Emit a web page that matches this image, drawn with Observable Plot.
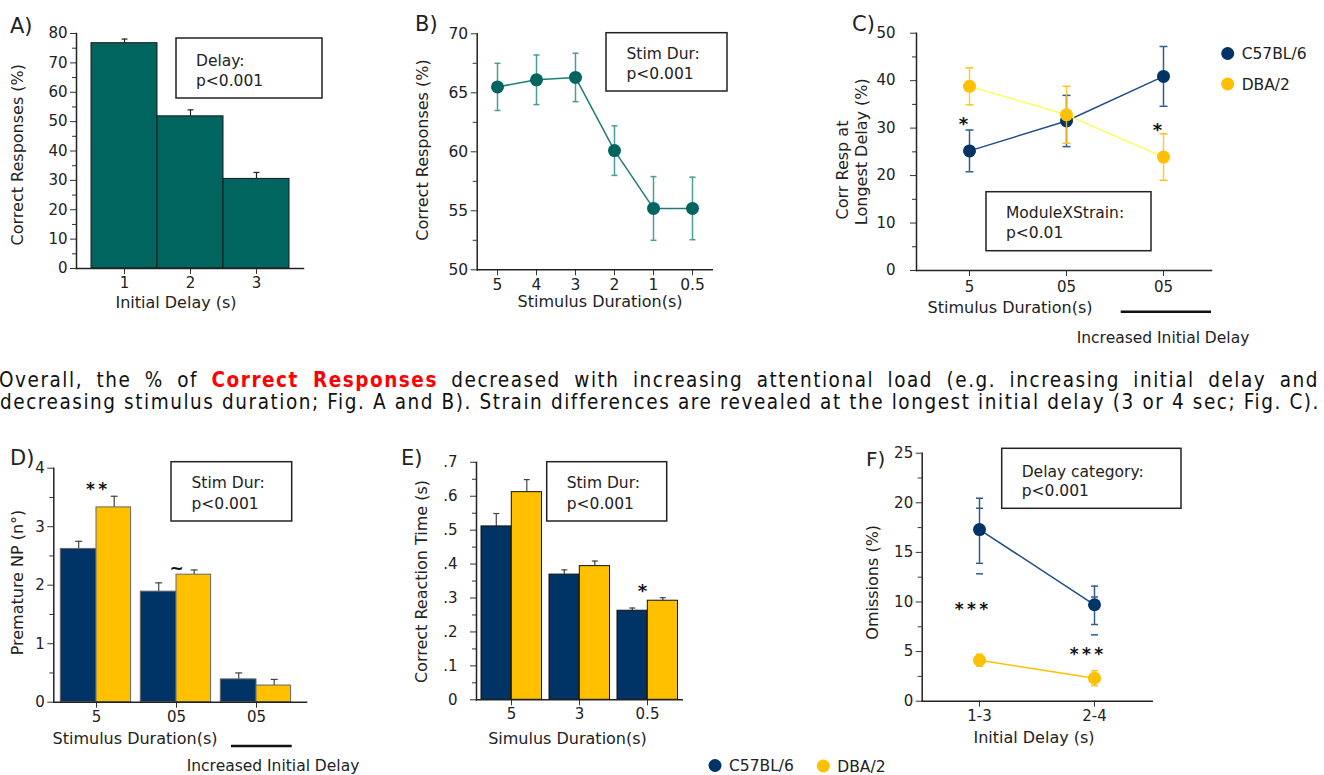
<!DOCTYPE html>
<html><head><meta charset="utf-8">
<script src="https://cdn.jsdelivr.net/npm/d3@7"></script>
<script src="https://cdn.jsdelivr.net/npm/@observablehq/plot@0.6"></script>
<style>
html,body{margin:0;padding:0;background:#fff;}
#root{position:relative;width:1324px;height:775px;overflow:hidden;font-family:"DejaVu Sans",Verdana,sans-serif;color:#222;background:#fff;}
</style></head><body><div id="root"></div>
<script>
// ---------- DATA ----------
const aDelays = ["1", "2", "3"];
const aMeans = [76.7, 51.8, 30.5];
const aSem = [1.4, 2.2, 2.2];

const bDurations = ["5", "4", "3", "2", "1", "0.5"];
const bMeans = [65.5, 66.1, 66.3, 60.1, 55.2, 55.2];
const bSem = [2.0, 2.1, 2.05, 2.1, 2.7, 2.65];

const cConditions = ["5", "0.5a", "0.5b"];
const cTickLabels = ["5", "05", "05"];
const cC57Means = [25.2, 31.5, 40.9];
const cC57Sem = [4.4, 5.4, 6.3];
const cDbaMeans = [38.8, 32.8, 23.9];
const cDbaSem = [3.9, 6.0, 4.9];

const dConditions = ["5", "0.5a", "0.5b"];
const dTickLabels = ["5", "05", "05"];
const dC57Means = [2.62, 1.89, 0.39];
const dC57Sem = [0.13, 0.15, 0.11];
const dDbaMeans = [3.33, 2.18, 0.285];
const dDbaSem = [0.19, 0.08, 0.105];

const eDurations = ["5", "3", "0.5"];
const eC57Means = [0.511, 0.369, 0.2625];
const eC57Sem = [0.038, 0.014, 0.008];
const eDbaMeans = [0.612, 0.394, 0.292];
const eDbaSem = [0.037, 0.015, 0.009];

const fDelays = ["1-3", "2-4"];
const fC57Means = [17.3, 9.72];
const fC57Low = [13.9, 7.73];
const fC57High = [20.46, 11.6];
const fC57Low2 = [12.84, 6.69];
const fC57High2 = [19.45, 10.5];
const fDbaMeans = [4.13, 2.32];
const fDbaSem = [0.6, 0.75];

// significance marks (category, level in data units, label)
const cStars = [{x: "5", y: 31.6, t: "*"}, {x: "0.5b", y: 30.5, t: "*"}];
const dMarks = [{x: "5", y: 3.70, t: "*\u2009*"}, {x: "0.5a", y: 2.36, t: "~"}];
const eStars = [{x: "0.5", y: 0.332, t: "*"}];
const fStars = [{x: "1-3", y: 9.65, t: "*\u2009*\u2009*"}, {x: "2-4", y: 5.11, t: "*\u2009*\u2009*"}];

// ---------- STYLE ----------
const FONT = '"DejaVu Sans", Verdana, sans-serif';
const NAVY = "#003366", GOLD = "#FFC000", TEAL = "#00655f";
const root = document.getElementById("root");
const cap = {draw(ctx, size) { const r = Math.sqrt(size / Math.PI); ctx.moveTo(-r, 0); ctx.lineTo(r, 0); }};
const baseStyle = {fontFamily: FONT, fontSize: "15px", color: "#222", background: "transparent", overflow: "visible"};

function yAxes(major, minor, fmt, pad = 3) {
  return [
    Plot.axisY({ticks: minor, tickSize: 4, tickFormat: () => "", label: null, stroke: "#333"}),
    Plot.axisY({ticks: major, tickSize: 6, tickPadding: pad, tickFormat: fmt, label: null, stroke: "#333"}),
    Plot.frame({anchor: "left", stroke: "#222", strokeWidth: 1.5})
  ];
}
function xAxis(fmt, pad = 3) {
  return [
    Plot.axisX({tickSize: 6, tickPadding: pad, label: null, stroke: "#333", tickFormat: fmt}),
    Plot.frame({anchor: "bottom", stroke: "#222", strokeWidth: 1.5})
  ];
}
function place(el, left, top) {
  el.style.position = "absolute"; el.style.left = left + "px"; el.style.top = top + "px";
  root.appendChild(el);
}

// ---------- PANEL A ----------
const aData = aDelays.map((d, i) => ({delay: d, mean: aMeans[i], hi: aMeans[i] + aSem[i]}));
place(Plot.plot({
  width: 330, height: 320, marginLeft: 76, marginRight: 27, marginTop: 33, marginBottom: 52,
  style: baseStyle,
  x: {domain: aDelays, padding: 0, insetLeft: 14, insetRight: 14, label: null},
  y: {domain: [0, 80], label: null},
  marks: [
    Plot.ruleX(aData, {x: "delay", y1: "mean", y2: "hi", stroke: "#222", strokeWidth: 1.2}),
    Plot.dot(aData, {x: "delay", y: "hi", symbol: cap, r: 3, stroke: "#222", fill: "none", strokeWidth: 1.2}),
    Plot.barY(aData, {x: "delay", y: "mean", fill: TEAL, stroke: "#1a1a1a", strokeWidth: 1}),
    ...yAxes(d3.range(0, 81, 10), d3.range(5, 80, 10)),
    ...xAxis()
  ]
}), 0, 0);

// ---------- PANEL B ----------
const bData = bDurations.map((d, i) => ({dur: d, mean: bMeans[i], lo: bMeans[i] - bSem[i], hi: bMeans[i] + bSem[i]}));
place(Plot.plot({
  width: 330, height: 320, marginLeft: 76.7, marginRight: 18.3, marginTop: 33.3, marginBottom: 50.7,
  style: {...baseStyle, fontSize: "15.5px"},
  x: {type: "point", domain: bDurations, padding: 0.5, label: null},
  y: {domain: [50, 70], label: null},
  marks: [
    Plot.ruleX(bData, {x: "dur", y1: "lo", y2: "hi", stroke: "#4a9c98", strokeWidth: 1.5}),
    Plot.dot(bData, {x: "dur", y: "lo", symbol: cap, r: 3, stroke: "#4a9c98", fill: "none", strokeWidth: 1.5}),
    Plot.dot(bData, {x: "dur", y: "hi", symbol: cap, r: 3, stroke: "#4a9c98", fill: "none", strokeWidth: 1.5}),
    Plot.line(bData, {x: "dur", y: "mean", stroke: "#1f7c77", strokeWidth: 1.5}),
    Plot.dot(bData, {x: "dur", y: "mean", r: 6.5, fill: TEAL}),
    ...yAxes(d3.range(50, 71, 5), [52.5, 57.5, 62.5, 67.5]),
    ...xAxis()
  ]
}), 400, 0);

// ---------- PANEL C ----------
const cC57 = cConditions.map((c, i) => ({c, m: cC57Means[i], lo: cC57Means[i] - cC57Sem[i], hi: cC57Means[i] + cC57Sem[i]}));
const cDba = cConditions.map((c, i) => ({c, m: cDbaMeans[i], lo: cDbaMeans[i] - cDbaSem[i], hi: cDbaMeans[i] + cDbaSem[i]}));
const cFmt = d => cTickLabels[cConditions.indexOf(d)];
place(Plot.plot({
  width: 400, height: 320, marginLeft: 86, marginRight: 19, marginTop: 32.7, marginBottom: 50,
  style: baseStyle,
  x: {type: "point", domain: cConditions, padding: 0.52, align: 0.52, label: null},
  y: {domain: [0, 50], label: null},
  marks: [
    Plot.ruleX(cC57, {x: "c", y1: "lo", y2: "hi", stroke: "#2f5f92", strokeWidth: 1.5}),
    Plot.dot(cC57, {x: "c", y: "lo", symbol: cap, r: 4, stroke: "#2f5f92", fill: "none", strokeWidth: 1.5}),
    Plot.dot(cC57, {x: "c", y: "hi", symbol: cap, r: 4, stroke: "#2f5f92", fill: "none", strokeWidth: 1.5}),
    Plot.line(cC57, {x: "c", y: "m", stroke: "#1f4f8a", strokeWidth: 1.5}),
    Plot.dot(cC57, {x: "c", y: "m", r: 6.5, fill: NAVY}),
    Plot.ruleX(cDba, {x: "c", y1: "lo", y2: "hi", stroke: "#ffc21a", strokeWidth: 1.5, strokeOpacity: 0.85}),
    Plot.dot(cDba, {x: "c", y: "lo", symbol: cap, r: 4, stroke: "#ffc21a", fill: "none", strokeWidth: 1.5}),
    Plot.dot(cDba, {x: "c", y: "hi", symbol: cap, r: 4, stroke: "#ffc21a", fill: "none", strokeWidth: 1.5}),
    Plot.line(cDba, {x: "c", y: "m", stroke: "#ffff55", strokeWidth: 1.5}),
    Plot.dot(cDba, {x: "c", y: "m", r: 6.5, fill: GOLD}),
    Plot.text(cStars, {x: "x", y: "y", text: "t", dx: -6, dy: 4, fontSize: 18, fontWeight: "bold", fill: "#111"}),
    ...yAxes(d3.range(0, 51, 10), d3.range(5, 50, 10), undefined, 15),
    ...xAxis(cFmt, 5)
  ]
}), 830, 0);

// ---------- PANEL D ----------
const dData = dConditions.map((c, i) => ({c, c57: dC57Means[i], c57hi: dC57Means[i] + dC57Sem[i], dba: dDbaMeans[i], dbahi: dDbaMeans[i] + dDbaSem[i]}));
const dFmt = d => dTickLabels[dConditions.indexOf(d)];
place(Plot.plot({
  width: 330, height: 300, marginLeft: 53.3, marginRight: 24, marginTop: 27.7, marginBottom: 38.3,
  style: baseStyle,
  x: {domain: dConditions, padding: 0, insetLeft: 2.4, insetRight: 10.3, label: null},
  y: {domain: [0, 4], label: null},
  marks: [
    Plot.ruleX(dData, {x: "c", y1: "c57", y2: "c57hi", dx: -17.8, stroke: "#444", strokeWidth: 1.2}),
    Plot.dot(dData, {x: "c", y: "c57hi", dx: -17.8, symbol: cap, r: 3.5, stroke: "#444", fill: "none", strokeWidth: 1.2}),
    Plot.ruleX(dData, {x: "c", y1: "dba", y2: "dbahi", dx: 17.7, stroke: "#444", strokeWidth: 1.2}),
    Plot.dot(dData, {x: "c", y: "dbahi", dx: 17.7, symbol: cap, r: 3.5, stroke: "#444", fill: "none", strokeWidth: 1.2}),
    Plot.barY(dData, {x: "c", y: "c57", fill: NAVY, stroke: "#666", strokeWidth: 1, insetLeft: 4.3, insetRight: 40}),
    Plot.barY(dData, {x: "c", y: "dba", fill: GOLD, stroke: "#666", strokeWidth: 1, insetLeft: 40, insetRight: 5.4}),
    Plot.text(dMarks, {x: "x", y: "y", text: "t", dy: 4, fontSize: 17, fontWeight: "bold", fill: "#111"}),
    ...yAxes([0, 1, 2, 3, 4], [0.5, 1.5, 2.5, 3.5], d3.format("d")),
    ...xAxis(dFmt)
  ]
}), 0, 440);

// ---------- PANEL E ----------
const eData = eDurations.map((c, i) => ({c, c57: eC57Means[i], c57hi: eC57Means[i] + eC57Sem[i], dba: eDbaMeans[i], dbahi: eDbaMeans[i] + eDbaSem[i]}));
place(Plot.plot({
  width: 300, height: 300, marginLeft: 76, marginRight: 18.3, marginTop: 21.8, marginBottom: 40.7,
  style: baseStyle,
  x: {domain: eDurations, padding: 0, label: null},
  y: {domain: [0, 0.7], label: null},
  marks: [
    Plot.ruleX(eData, {x: "c", y1: "c57", y2: "c57hi", dx: -15.2, stroke: "#444", strokeWidth: 1.2}),
    Plot.dot(eData, {x: "c", y: "c57hi", dx: -15.2, symbol: cap, r: 3, stroke: "#444", fill: "none", strokeWidth: 1.2}),
    Plot.ruleX(eData, {x: "c", y1: "dba", y2: "dbahi", dx: 15.3, stroke: "#444", strokeWidth: 1.2}),
    Plot.dot(eData, {x: "c", y: "dbahi", dx: 15.3, symbol: cap, r: 3, stroke: "#444", fill: "none", strokeWidth: 1.2}),
    Plot.barY(eData, {x: "c", y: "c57", fill: NAVY, stroke: "#111", strokeWidth: 1, insetLeft: 4, insetRight: 34.3}),
    Plot.barY(eData, {x: "c", y: "dba", fill: GOLD, stroke: "#111", strokeWidth: 1, insetLeft: 34.3, insetRight: 3.5}),
    Plot.text(eStars, {x: "x", y: "y", text: "t", dx: -5, dy: 4, fontSize: 18, fontWeight: "bold", fill: "#111"}),
    ...yAxes(d3.range(0, 0.71, 0.1), d3.range(0.05, 0.7, 0.1), d => d < 0.001 ? "0" : "." + Math.round(d * 10), 13),
    ...xAxis()
  ]
}), 400, 440);

// ---------- PANEL F ----------
const fC57 = fDelays.map((c, i) => ({c, m: fC57Means[i], lo: fC57Low[i], hi: fC57High[i], lo2: fC57Low2[i], hi2: fC57High2[i]}));
const fDba = fDelays.map((c, i) => ({c, m: fDbaMeans[i], lo: fDbaMeans[i] - fDbaSem[i], hi: fDbaMeans[i] + fDbaSem[i]}));
place(Plot.plot({
  width: 330, height: 300, marginLeft: 71.7, marginRight: 28.3, marginTop: 12.7, marginBottom: 39.3,
  style: baseStyle,
  x: {type: "point", domain: fDelays, padding: 0.5, label: null},
  y: {domain: [0, 25], label: null},
  marks: [
    Plot.ruleX(fC57, {x: "c", y1: "lo", y2: "hi", stroke: "#2f5f92", strokeWidth: 1.5}),
    Plot.dot(fC57, {x: "c", y: "lo", symbol: cap, r: 3.5, stroke: "#2f5f92", fill: "none", strokeWidth: 1.5}),
    Plot.dot(fC57, {x: "c", y: "hi", symbol: cap, r: 3.5, stroke: "#2f5f92", fill: "none", strokeWidth: 1.5}),
    Plot.dot(fC57, {x: "c", y: "lo2", symbol: cap, r: 3.5, stroke: "#2f5f92", fill: "none", strokeWidth: 1.5}),
    Plot.dot(fC57, {x: "c", y: "hi2", symbol: cap, r: 3.5, stroke: "#2f5f92", fill: "none", strokeWidth: 1.5}),
    Plot.line(fC57, {x: "c", y: "m", stroke: "#1f4f8a", strokeWidth: 1.5}),
    Plot.dot(fC57, {x: "c", y: "m", r: 6.5, fill: NAVY}),
    Plot.ruleX(fDba, {x: "c", y1: "lo", y2: "hi", stroke: "#ffc21a", strokeWidth: 1.5}),
    Plot.dot(fDba, {x: "c", y: "lo", symbol: cap, r: 3.5, stroke: "#ffc21a", fill: "none", strokeWidth: 1.5}),
    Plot.dot(fDba, {x: "c", y: "hi", symbol: cap, r: 3.5, stroke: "#ffc21a", fill: "none", strokeWidth: 1.5}),
    Plot.line(fDba, {x: "c", y: "m", stroke: "#ffc000", strokeWidth: 1.5}),
    Plot.dot(fDba, {x: "c", y: "m", r: 6.5, fill: GOLD}),
    Plot.text(fStars, {x: "x", y: "y", text: "t", dx: -8, dy: 4, fontSize: 17, fontWeight: "bold", fill: "#111"}),
    ...yAxes(d3.range(0, 26, 5), [2.5, 7.5, 12.5, 17.5, 22.5]),
    ...xAxis()
  ]
}), 850, 440);

// ---------- OVERLAY TEXT ----------
const ov = d3.select(root).append("svg")
  .attr("width", 1324).attr("height", 775)
  .style("position", "absolute").style("left", "0px").style("top", "0px")
  .style("font-family", FONT).style("fill", "#222");

function txt(x, y, s, size = 16, anchor = "start", extra = {}) {
  const t = ov.append("text").attr("x", x).attr("y", y).attr("font-size", size).attr("text-anchor", anchor).text(s);
  for (const k in extra) t.attr(k, extra[k]);
  return t;
}
function ytitle(cx, cy, s, size = 16) {
  ov.append("text").attr("transform", `translate(${cx},${cy}) rotate(-90)`)
    .attr("text-anchor", "middle").attr("dy", "0.36em").attr("font-size", size).text(s);
}
function box(x1, y1, x2, y2, lines, tx, baselines) {
  ov.append("rect").attr("x", x1).attr("y", y1).attr("width", x2 - x1).attr("height", y2 - y1)
    .attr("fill", "#fff").attr("stroke", "#222").attr("stroke-width", 1.5);
  lines.forEach((l, i) => txt(tx, baselines[i], l, 15.5));
}
function hline(x1, x2, y) {
  ov.append("line").attr("x1", x1).attr("x2", x2).attr("y1", y).attr("y2", y).attr("stroke", "#111").attr("stroke-width", 2.5);
}

// panel letters
txt(10, 33, "A)", 21); txt(415, 31, "B)", 21); txt(852, 31, "C)", 21);
txt(10, 465, "D)", 21); txt(401, 465, "E)", 21); txt(866, 466, "F)", 20);

// statistic boxes
box(176, 38, 322, 98, ["Delay:", "p<0.001"], 196, [65.5, 85.5]);
box(606, 32.7, 727, 91, ["Stim Dur:", "p<0.001"], 626.5, [59.3, 79.3]);
box(986, 191.7, 1151, 250.7, ["ModuleXStrain:", "p<0.01"], 1006, [218.3, 238.3]);
box(171, 461.7, 291.7, 521, ["Stim Dur:", "p<0.001"], 191.5, [488.3, 509]);
box(546.7, 461.7, 666.7, 521, ["Stim Dur:", "p<0.001"], 566.7, [488.3, 508.5]);
box(1001.7, 448.3, 1181, 508.3, ["Delay category:", "p<0.001"], 1021.7, [476.7, 495.5]);

// axis titles
txt(176, 308.3, "Initial Delay (s)", 16, "middle");
txt(600, 307.3, "Stimulus Duration(s)", 16, "middle");
txt(1010, 313.3, "Stimulus Duration(s)", 16, "middle");
txt(135, 744, "Stimulus Duration(s)", 16, "middle");
txt(567.5, 744, "Simulus Duration(s)", 16, "middle");
txt(1034, 743.3, "Initial Delay (s)", 16, "middle");
ytitle(17.6, 154.7, "Correct Responses (%)");
ytitle(422, 150, "Correct Responses (%)");
ytitle(842.5, 170, "Corr Resp at");
ytitle(861.5, 151.7, "Longest Delay (%)");
ytitle(17.5, 582.5, "Premature NP (n°)");
ytitle(421, 581.5, "Correct Reaction Time (s)");
ytitle(872, 582.3, "Omissions (%)");

// increased initial delay markers
hline(1120.7, 1211, 311.7);
txt(1076.7, 343.3, "Increased Initial Delay", 15.5);
hline(231, 291.7, 746);
txt(186.7, 770.5, "Increased Initial Delay", 15.5);

// legends
function legendItem(cx, cy, color, label) {
  ov.append("circle").attr("cx", cx).attr("cy", cy).attr("r", 6.5).attr("fill", color);
  txt(cx + 14, cy + 5.8, label, 15.5);
}
legendItem(1227.7, 53.5, NAVY, "C57BL/6");
legendItem(1227.7, 84, GOLD, "DBA/2");
legendItem(715, 765.5, NAVY, "C57BL/6");
legendItem(823.3, 766, GOLD, "DBA/2");

// paragraph (justified lines)
const PFONT = '"DejaVu Sans Condensed", "DejaVu Sans", Verdana, sans-serif';
function paraLine(x, y, parts, size) {
  const t = ov.append("text").attr("x", x).attr("y", y).attr("font-size", size).style("font-family", PFONT).attr("fill", "#111");
  parts.forEach(p => {
    const s = t.append("tspan").text(p.s);
    if (p.red) s.attr("fill", "#ff0000").attr("font-weight", "bold");
  });
  return t;
}
const line1 = [{s: "Overall, the % of "}, {s: "Correct Responses", red: true}, {s: " decreased with increasing attentional load (e.g. increasing initial delay and"}];
const line2 = [{s: "decreasing stimulus duration; Fig. A and B). Strain differences are revealed at the longest initial delay (3 or 4 sec; Fig. C)."}];
let fs = 20.5;
const probe = paraLine(0, -100, line2, fs);
const nat2 = probe.node().getComputedTextLength();
probe.remove();
if (nat2 > 1316) fs = fs * 1316 / nat2;
const line2Len = line2.map(p => p.s).join("").length;
const ls = nat2 < 1316 ? (1316 - nat2) / line2Len : 0;
function justify(x, y, width, parts) {
  const t = paraLine(x, y, parts, fs).attr("letter-spacing", ls);
  const full = parts.map(p => p.s).join("");
  const spaces = (full.match(/ /g) || []).length;
  const nat = t.node().getComputedTextLength();
  t.attr("word-spacing", Math.max(0, (width - nat) / spaces));
}
justify(-1, 386.7, 1320, line1);
justify(0, 409.3, 1320, line2);
</script>
</body></html>
